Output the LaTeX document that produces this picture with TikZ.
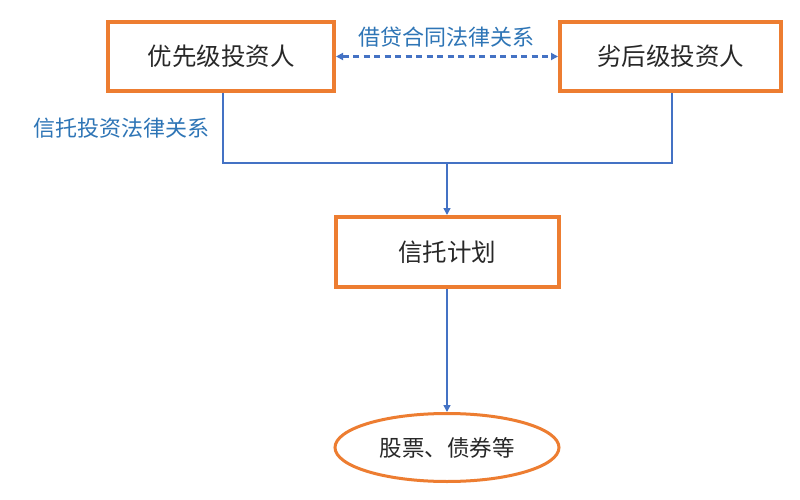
\documentclass[tikz,border=0pt]{standalone}
\usepackage{fontspec}
\setmainfont{Noto Sans CJK SC}
\usetikzlibrary{shapes.geometric,arrows.meta}
\definecolor{boxorange}{RGB}{237,125,49}
\definecolor{lineblue}{RGB}{68,114,196}
\definecolor{labelblue}{RGB}{46,117,182}
\definecolor{txt}{RGB}{40,40,40}
\tikzset{
  party/.style={draw=boxorange, line width=4pt, fill=white, rectangle, inner sep=0pt,
    text=txt, font=\fontsize{24.5}{28}\selectfont},
  asset/.style={draw=boxorange, line width=3pt, fill=white, ellipse, inner sep=0pt,
    text=txt, font=\fontsize{22.5}{26}\selectfont},
  rel/.style={text=labelblue, font=\fontsize{22}{26}\selectfont, inner sep=0pt},
  conn/.style={draw=lineblue, line width=1.5pt},
  tip/.style={-{Triangle[length=7pt,width=7pt]}},
}
\begin{document}
\begin{tikzpicture}[x=1pt,y=-1pt]
\useasboundingbox[fill=white] (0,0) rectangle (800,500);
\node[party, minimum width=226pt, minimum height=69pt] (p1) at (221,56.5) {优先级投资人};
\node[party, minimum width=221pt, minimum height=69pt] (p2) at (670.5,56.5) {劣后级投资人};
\node[party, minimum width=223pt, minimum height=70pt] (p3) at (447,252) {信托计划};
\node[asset, minimum width=224pt, minimum height=68pt] (e) at (447,447.5) {股票、债券等};
\coordinate (j) at (447,163);
\node[rel] (l1) at (446.5,37) {借贷合同法律关系};
\node[rel] (l2) at (121.5,128) {信托投资法律关系};
\draw[conn, dash pattern=on 6pt off 4.5pt, line width=2.2pt,
  {Triangle[length=7pt,width=7pt]}-{Triangle[length=7pt,width=7pt]}] (p1.east) -- (p2.west);
\draw[conn] ([xshift=2pt]p1.south) |- (j);
\draw[conn] ([xshift=1.5pt]p2.south) |- (j);
\draw[conn, tip] (j) -- (p3.north);
\draw[conn, tip] (p3.south) -- (e.north);
\end{tikzpicture}
\end{document}
